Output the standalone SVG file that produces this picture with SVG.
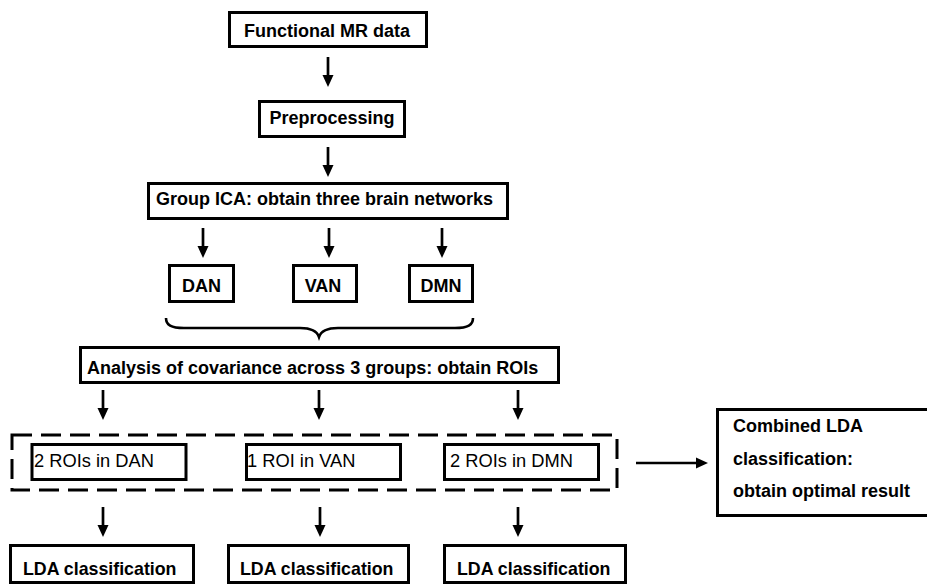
<svg xmlns="http://www.w3.org/2000/svg" width="927" height="584" viewBox="0 0 927 584">
<style>
.box{fill:#fff;stroke:#000;stroke-width:3}
.t{font-family:"Liberation Sans",Arial,sans-serif;font-size:18px;font-weight:bold;fill:#000}
.r{font-family:"Liberation Sans",Arial,sans-serif;font-size:18.3px;fill:#000}
.l{font-family:"Liberation Sans",Arial,sans-serif;font-size:17.8px;font-weight:bold;fill:#000}
.ar{stroke:#000;stroke-width:2.7;fill:none;marker-end:url(#ah)}
</style>
<defs>
<marker id="ah" markerUnits="userSpaceOnUse" markerWidth="12" markerHeight="12" viewBox="0 0 12 12" refX="2" refY="6" orient="auto"><path d="M0,0.5 L12,6 L0,11.5 z" fill="#000"/></marker>
</defs>
<rect width="927" height="584" fill="#fff"/>
<g id="connectors">
<line class="ar" x1="328" y1="57" x2="328" y2="77"/>
<line class="ar" x1="328" y1="147" x2="328" y2="167"/>
<line class="ar" x1="203" y1="228" x2="203" y2="248"/>
<line class="ar" x1="329" y1="228" x2="329" y2="248"/>
<line class="ar" x1="442" y1="228" x2="442" y2="248"/>
<path d="M166,318 C166,325 171,328 184,328 L300,328 C312,328 317,331 319,337 C321,331 326,328 338,328 L455,328 C468,328 473,325 473,318" fill="none" stroke="#000" stroke-width="2.6"/>
<line class="ar" x1="103" y1="390" x2="103" y2="410"/>
<line class="ar" x1="319" y1="390" x2="319" y2="410"/>
<line class="ar" x1="518" y1="390" x2="518" y2="410"/>
<line class="ar" x1="103" y1="507" x2="103" y2="527"/>
<line class="ar" x1="320" y1="507" x2="320" y2="527"/>
<line class="ar" x1="518" y1="507" x2="518" y2="527"/>
<line class="ar" x1="636" y1="463" x2="698" y2="463"/>
</g>
<g id="group-rois">
<path d="M12,435 H617 V490 H12 Z" fill="none" stroke="#000" stroke-width="3" stroke-dasharray="20 9"/>
</g>
<g id="n-fmri">
<rect class="box" x="229.5" y="12.5" width="197" height="34"/>
<text class="t" x="327" y="37" text-anchor="middle">Functional MR data</text>
</g>
<g id="n-pre">
<rect class="box" x="259.5" y="101.5" width="145" height="35"/>
<text class="t" x="332" y="124" text-anchor="middle">Preprocessing</text>
</g>
<g id="n-ica">
<rect class="box" x="148.5" y="183.5" width="359" height="35"/>
<text class="t" x="156" y="205">Group ICA: obtain three brain networks</text>
</g>
<g id="n-dan">
<rect class="box" x="169.5" y="265.5" width="64" height="36"/>
<text class="t" x="201.5" y="292" text-anchor="middle">DAN</text>
</g>
<g id="n-van">
<rect class="box" x="293.5" y="265.5" width="63" height="36"/>
<text class="t" x="323" y="292" text-anchor="middle">VAN</text>
</g>
<g id="n-dmn">
<rect class="box" x="409.5" y="265.5" width="63" height="36"/>
<text class="t" x="441" y="292" text-anchor="middle">DMN</text>
</g>
<g id="n-anova">
<rect class="box" x="80.5" y="347.5" width="478" height="35"/>
<text class="t" x="87" y="374">Analysis of covariance across 3 groups: obtain ROIs</text>
</g>
<g id="n-roi-dan">
<rect class="box" x="32" y="444.5" width="154" height="35"/>
<text class="r" x="34" y="467">2 ROIs in DAN</text>
</g>
<g id="n-roi-van">
<rect class="box" x="246.5" y="444.5" width="154" height="35"/>
<text class="r" x="247" y="467">1 ROI in VAN</text>
</g>
<g id="n-roi-dmn">
<rect class="box" x="444.5" y="444.5" width="154" height="35"/>
<text class="r" x="450" y="467">2 ROIs in DMN</text>
</g>
<g id="n-lda1">
<rect class="box" x="10.5" y="545.5" width="183" height="37"/>
<text class="l" x="23" y="575">LDA classification</text>
</g>
<g id="n-lda2">
<rect class="box" x="228.5" y="545.5" width="180" height="37"/>
<text class="l" x="240" y="575">LDA classification</text>
</g>
<g id="n-lda3">
<rect class="box" x="444.5" y="545.5" width="181" height="37"/>
<text class="l" x="457" y="575">LDA classification</text>
</g>
<g id="n-combined">
<rect class="box" x="717.5" y="409.5" width="215" height="106"/>
<text class="t" x="733" y="432">Combined LDA</text>
<text class="t" x="733" y="465">classification:</text>
<text class="t" x="733" y="497">obtain optimal result</text>
</g>
</svg>
